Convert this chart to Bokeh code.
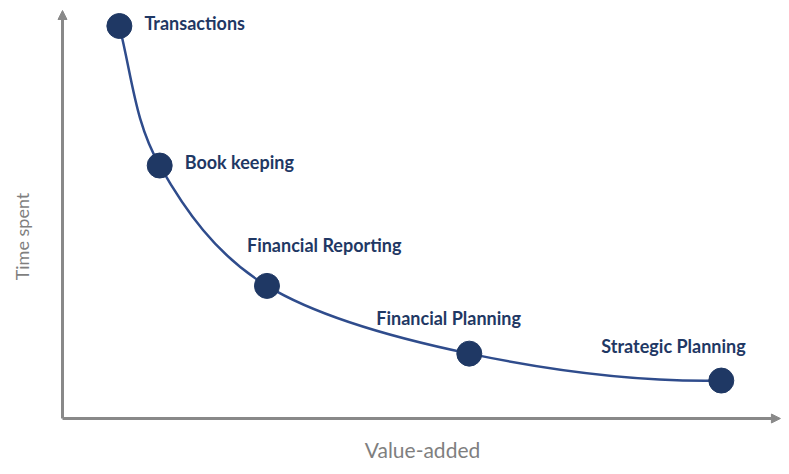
import math
import numpy as np
from bokeh.plotting import figure
from bokeh.models import ColumnDataSource, Range1d, Arrow, NormalHead
from bokeh.core.properties import value
from bokeh.embed import file_html
from bokeh.resources import INLINE

# ---- data (value-added score, time-spent score) ----
stages = ["Transactions", "Book keeping", "Financial Reporting", "Financial Planning", "Strategic Planning"]
value_added = [7.9, 13.5, 28.4, 56.5, 91.5]
time_spent = [96.2, 62.0, 32.5, 15.9, 9.3]
x_title = "Value-added"
y_title = "Time spent"

# ---- layout / style ----
X_PX, Y_PX = 7.2, 4.08          # pixels per unit
W, H = 781, 466
ORIGIN_PX = (62, 418)           # axis origin inside the canvas
label_dx = [25, 25, -20, -93, -120]
label_dy = [-3, -4, -41, -36, -35]
NAVY = "#1F3864"
LINE = "#2F4C8C"
AXIS = "#898989"
TITLE = "#7F7F7F"
FONT = "Lato"

x0 = -ORIGIN_PX[0] / X_PX
x1 = x0 + W / X_PX
y1 = ORIGIN_PX[1] / Y_PX
y0 = y1 - H / Y_PX

p = figure(width=W, height=H, x_range=Range1d(x0, x1), y_range=Range1d(y0, y1),
           x_axis_type=None, y_axis_type=None, output_backend="svg",
           toolbar_location=None, min_border=0)
p.outline_line_color = None
p.grid.visible = False
p.background_fill_color = "white"

# axes with arrows
p.add_layout(Arrow(end=NormalHead(size=9, fill_color=AXIS, line_color=AXIS, line_width=1),
                   x_start=0, y_start=0, x_end=x1 - 0.15, y_end=0,
                   line_color=AXIS, line_width=3))
p.add_layout(Arrow(end=NormalHead(size=9, fill_color=AXIS, line_color=AXIS, line_width=1),
                   x_start=0, y_start=0, x_end=0, y_end=100,
                   line_color=AXIS, line_width=3))

# smooth curve (Catmull-Rom style Bezier segments)
P = np.column_stack([value_added, time_spent]).astype(float)
n = len(P)

def end_slope(a, b, c, at):
    s1 = (b[1] - a[1]) / (b[0] - a[0])
    s2 = (c[1] - b[1]) / (c[0] - b[0])
    f3 = (s2 - s1) / (c[0] - a[0])
    if at == 0:
        return s1 + f3 * (a[0] - b[0])
    return s2 + f3 * (c[0] - b[0])

bx0, by0, bx1, by1, cx0, cy0, cx1, cy1 = ([] for _ in range(8))
for i in range(n - 1):
    A, B = P[i], P[i + 1]
    if i == 0:
        dx = (B[0] - A[0]) / 3
        C0 = A + np.array([dx, end_slope(P[0], P[1], P[2], 0) * dx])
    else:
        C0 = A + (P[i + 1] - P[i - 1]) / 6
    if i == n - 2:
        dx = (B[0] - A[0]) / 3
        C1 = B - np.array([dx, end_slope(P[-3], P[-2], P[-1], 1) * dx])
    else:
        C1 = B - (P[i + 2] - P[i]) / 6
    bx0.append(A[0]); by0.append(A[1]); bx1.append(B[0]); by1.append(B[1])
    cx0.append(C0[0]); cy0.append(C0[1]); cx1.append(C1[0]); cy1.append(C1[1])

p.bezier(x0=bx0, y0=by0, x1=bx1, y1=by1, cx0=cx0, cy0=cy0, cx1=cx1, cy1=cy1,
         line_color=LINE, line_width=2.5)

src = ColumnDataSource(dict(x=value_added, y=time_spent, name=stages,
                            dx=label_dx, dy=label_dy))
p.scatter("x", "y", source=src, size=25, fill_color=NAVY, line_color=NAVY)
p.text("x", "y", text="name", source=src, x_offset="dx", y_offset="dy",
       text_font=value(FONT), text_font_style="bold", text_font_size="18px",
       text_color=NAVY, text_align="left", text_baseline="alphabetic")

# axis titles
p.text(x=[50], y=[0], text=[x_title], x_offset=[0], y_offset=[31],
       text_font=value(FONT), text_font_size="21px", text_color=TITLE,
       text_align="center", text_baseline="alphabetic")
p.text(x=[0], y=[44.6], text=[y_title], x_offset=[-41], y_offset=[0], angle=math.pi / 2,
       text_font=value(FONT), text_font_size="18px", text_color=TITLE,
       text_align="center", text_baseline="middle")

open("out.html", "w").write(file_html(p, INLINE))
